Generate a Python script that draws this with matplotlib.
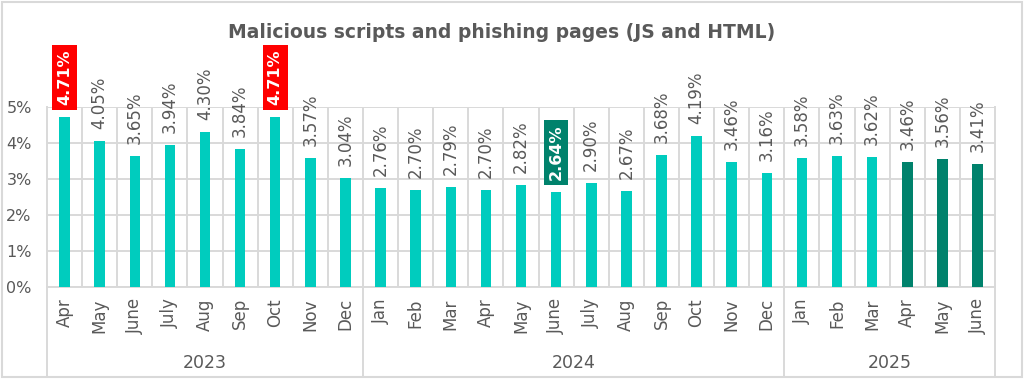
import matplotlib as mpl
import matplotlib.pyplot as plt
from matplotlib.lines import Line2D
from matplotlib.patches import Rectangle

mpl.rcParams['font.family'] = ['DejaVu Sans']

# data
months = ['Apr', 'May', 'June', 'July', 'Aug', 'Sep', 'Oct', 'Nov', 'Dec',
          'Jan', 'Feb', 'Mar', 'Apr', 'May', 'June', 'July', 'Aug', 'Sep', 'Oct', 'Nov', 'Dec',
          'Jan', 'Feb', 'Mar', 'Apr', 'May', 'June']
values = [4.71, 4.05, 3.65, 3.94, 4.30, 3.84, 4.71, 3.57, 3.04,
          2.76, 2.70, 2.79, 2.70, 2.82, 2.64, 2.90, 2.67, 3.68, 4.19, 3.46, 3.16,
          3.58, 3.63, 3.62, 3.46, 3.56, 3.41]
years = ['2023', '2024', '2025']
year_counts = [9, 12, 6]
# highlighted labels: index -> box colour
highlight_max = [0, 6]
highlight_min = [14]
dark_bars = [24, 25, 26]

teal = '#00CCBE'
dark = '#00826C'
red = '#FF0000'
grey_txt = '#595959'
grid_c = '#D9D9D9'

fig = plt.figure(figsize=(10.24, 3.79), dpi=100)
ax = fig.add_axes([0.0459, 0.2427, 0.9258, 0.475])

x = list(range(len(values)))
colors = [dark if i in dark_bars else teal for i in x]
ax.bar(x, values, width=0.3, color=colors, zorder=3)

ax.set_xlim(-0.5, len(values) - 0.5)
ax.set_ylim(0, 5)
ax.set_yticks([0, 1, 2, 3, 4, 5])
ax.set_yticklabels([f'{v}%' for v in range(6)])
ax.set_xticks(x)
ax.set_xticklabels(months, rotation=90, va='top')
ax.set_xticks([i + 0.5 for i in x[:-1]], minor=True)
ax.tick_params(axis='both', length=0, colors=grey_txt)
ax.tick_params(axis='y', pad=11, labelsize=11.5)
ax.tick_params(axis='x', pad=8, labelsize=12)
ax.tick_params(which='minor', length=0)
ax.grid(axis='y', which='major', color=grid_c, lw=1.4, zorder=0)
ax.grid(axis='x', which='minor', color=grid_c, lw=1.4, zorder=0)
for s in ax.spines.values():
    s.set_visible(False)
ax.spines['bottom'].set_visible(True)
ax.spines['bottom'].set_color(grid_c)
ax.spines['bottom'].set_linewidth(1.4)

# data labels
for i, v in enumerate(values):
    if i in highlight_max or i in highlight_min:
        fc = red if i in highlight_max else dark
        ax.annotate(f'{v:.2f}%', (i, v), xytext=(0, 12), textcoords='offset pixels',
                    rotation=90, ha='center', va='bottom', fontsize=11.5,
                    fontweight='bold', color='white', zorder=5,
                    bbox=dict(boxstyle='square,pad=0.3', fc=fc, ec='none'))
    else:
        ax.annotate(f'{v:.2f}%', (i, v), xytext=(0, 12), textcoords='offset pixels',
                    rotation=90, ha='center', va='bottom', fontsize=12,
                    color=grey_txt, zorder=5)

# year group separators and labels
trans = ax.get_xaxis_transform()
start = 0
bounds = [-0.5]
for yr, n in zip(years, year_counts):
    ax.text(start + (n - 1) / 2, -0.42, yr, transform=trans, ha='center', va='center',
            fontsize=12.5, color=grey_txt)
    start += n
    bounds.append(start - 0.5)
for b in bounds:
    top = 1 if b in (bounds[0], bounds[-1]) else 0
    ax.add_line(Line2D([b, b], [-0.49, top], transform=trans, color=grid_c, lw=1.4,
                       clip_on=False, zorder=1))

fig.text(0.49, 0.915, 'Malicious scripts and phishing pages (JS and HTML)',
         ha='center', va='center', fontsize=13.5, fontweight='bold', color=grey_txt)

fig.patches.append(Rectangle((0.002, 0.004), 0.996, 0.992, transform=fig.transFigure,
                             fill=False, ec=grid_c, lw=1.5))

fig.savefig('out.png', dpi=100)
